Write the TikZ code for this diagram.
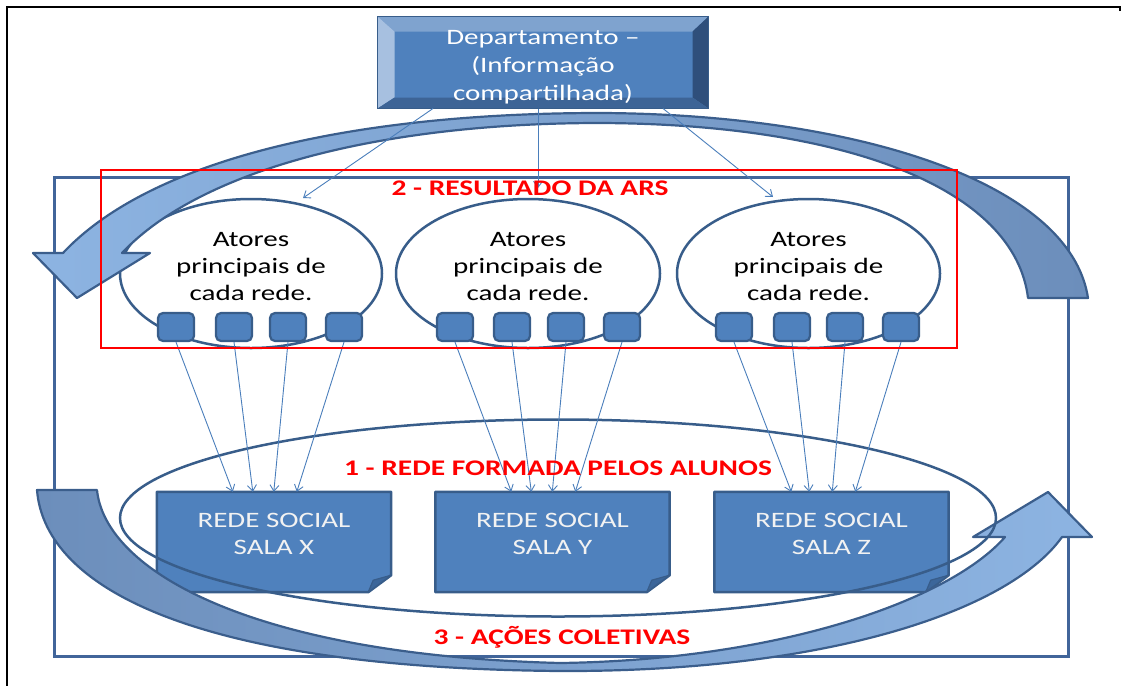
\documentclass[tikz,border=0pt]{standalone}
\usepackage{fontspec}
\setmainfont{Carlito}[FakeStretch=1.32]
\usetikzlibrary{shapes.geometric,arrows.meta,calc}
\definecolor{face}{HTML}{4F81BD}
\definecolor{bord}{HTML}{385D8A}
\definecolor{rectc}{HTML}{41659A}
\definecolor{arrlight}{HTML}{8DB4E2}
\definecolor{arrdark}{HTML}{6C8EBB}
\definecolor{arrbord}{HTML}{3B5E8C}
\definecolor{thinc}{HTML}{4A7EBB}
\definecolor{foldc}{HTML}{3C669A}
\definecolor{bvtop}{HTML}{7FA3CF}
\definecolor{bvleft}{HTML}{A7C0E0}
\definecolor{bvright}{HTML}{2F4F7B}
\definecolor{bvbot}{HTML}{3D6496}
\tikzset{
  smallsq/.style={rounded corners=5pt, fill=face, draw=bord, line width=2.2pt,
    minimum width=36pt, minimum height=28pt, inner sep=0pt},
  actor/.style={ellipse, draw=bord, line width=2.5pt, fill=white, inner sep=0pt,
    minimum height=149pt},
  redebox/.style={minimum width=234pt, minimum height=100pt, inner sep=0pt},
  thinarrow/.style={draw=thinc, line width=0.9pt, -{Straight Barb[length=6pt,width=9pt]}},
  bodytext/.style={align=center, font=\fontsize{22}{27}\selectfont, inner sep=0pt},
  redlabel/.style={text=red, font=\bfseries\fontsize{22.3}{26}\selectfont, inner sep=0pt},
}
\begin{document}
\begin{tikzpicture}[x=1pt,y=-1pt]
\useasboundingbox (0,0) rectangle (1121,686);
% frame
\draw[black, line width=1.5pt] (1120,11) -- (1120,7) -- (7,7) -- (7,686);
% outer rectangle
\node[draw=rectc, line width=3pt, minimum width=1014pt, minimum height=479pt, inner sep=0pt] (outer) at (561,416.5) {};
% actor ellipses
\node[actor, minimum width=262pt] (e1) at (251,273.5) {};
\node[actor, minimum width=264pt] (e2) at (528,273.5) {};
\node[actor, minimum width=263pt] (e3) at (808.5,273.5) {};
\node[bodytext] (t1) at (251,267) {Atores\\principais de\\cada rede.};
\node[bodytext] (t2) at (528,267) {Atores\\principais de\\cada rede.};
\node[bodytext] (t3) at (808.5,267) {Atores\\principais de\\cada rede.};
% small squares
\foreach \n/\x in {a1/176,a2/234,a3/288,a4/344,b1/455,b2/512,b3/566,b4/622,c1/734,c2/792,c3/845,c4/901}
  \node[smallsq] (\n) at (\x,327) {};
% department box
\node[fill=face, draw=bord, line width=1pt, minimum width=330pt, minimum height=91pt, inner sep=0pt] (dept) at (543,62.5) {};
\fill[bvtop] (dept.north west) -- (dept.north east) -- ($(dept.north east)+(-16,15)$) -- ($(dept.north west)+(17,15)$) -- cycle;
\fill[bvleft] (dept.north west) -- ($(dept.north west)+(17,15)$) -- ($(dept.south west)+(17,-11)$) -- (dept.south west) -- cycle;
\fill[bvright] (dept.north east) -- (dept.south east) -- ($(dept.south east)+(-16,-11)$) -- ($(dept.north east)+(-16,15)$) -- cycle;
\fill[bvbot] (dept.south west) -- (dept.south east) -- ($(dept.south east)+(-16,-11)$) -- ($(dept.south west)+(17,-11)$) -- cycle;
\draw[bord, line width=1.5pt] (dept.north west) rectangle (dept.south east);
\node[bodytext, text=white, font=\fontsize{22}{28}\selectfont] (dtext) at (543,67) {Departamento --\\(Informação\\compartilhada)};
% rede social boxes
\node[redebox] (rx) at (274,542) {};
\node[redebox] (ry) at (552.5,542) {};
\node[redebox] (rz) at (831.5,542) {};
\foreach \b in {rx,ry,rz}{
  \path[fill=face, draw=bord, line width=2.5pt, line join=round]
    (\b.north west) -- (\b.north east) -- ($(\b.south east)+(0,-17)$) -- ($(\b.south east)+(-23,0)$) -- (\b.south west) -- cycle;
  \path[fill=foldc, draw=bord, line width=1.2pt, line join=round]
    ($(\b.south east)+(-23,0)$) -- ($(\b.south east)+(-18,-12)$) -- ($(\b.south east)+(0,-17)$) -- cycle;
}
\node[bodytext, text=white!95!black] (rxt) at (274,534) {REDE SOCIAL\\SALA X};
\node[bodytext, text=white!95!black] (ryt) at (552.5,534) {REDE SOCIAL\\SALA Y};
\node[bodytext, text=white!95!black] (rzt) at (831.5,534) {REDE SOCIAL\\SALA Z};
% upper curved arrow
\path[draw=arrbord, line width=2.2pt, left color=arrlight, right color=arrdark, line join=round]
 (1088,298) .. controls (1070,180) and (850,114) .. (600,113)
 .. controls (350,113) and (150,160) .. (63,253)
 -- (33,253) -- (77,298) -- (150,253) -- (122,253)
 .. controls (200,170) and (380,123) .. (600,123)
 .. controls (850,124) and (1015,190) .. (1028,298) -- cycle;
% lower curved arrow
\path[draw=arrbord, line width=2.2pt, left color=arrdark, right color=arrlight, line join=round]
 (37,490) .. controls (45,590) and (200,668) .. (560,671)
 .. controls (830,672) and (1010,610) .. (1062,537)
 -- (1092,537) -- (1048,492) -- (973,537) -- (1005,537)
 .. controls (950,600) and (780,660) .. (560,663)
 .. controls (250,655) and (105,570) .. (97,490) -- cycle;
% big ellipse
\node[ellipse, draw=bord, line width=2.5pt, minimum width=876pt, minimum height=197pt, inner sep=0pt] (big) at (558,518) {};
% department connectors
\coordinate (p1) at (303,198);
\coordinate (p2) at (538,188);
\coordinate (p3) at (773,197);
\draw[thinarrow] ($(dept.south)+(-110,0)$) -- (p1);
\draw[thinarrow] ($(dept.south)+(-5,0)$) -- (p2);
\draw[thinarrow] ($(dept.south)+(120,0)$) -- (p3);
% square to box connectors
\foreach \s/\b/\o in {a1/rx/76,a2/rx/96,a3/rx/117,a4/rx/140,
                      b1/ry/76,b2/ry/96,b3/ry/117,b4/ry/140,
                      c1/rz/77,c2/rz/95,c3/rz/118,c4/rz/141}
  \draw[thinarrow] (\s.south) -- ($(\b.north west)+(\o,0)$);
% red box
\node[draw=red, line width=2.5pt, minimum width=856pt, minimum height=178pt, inner sep=0pt] (redbox) at (529,259) {};
% labels
\node[redlabel] (l2) at (530,188) {2 - RESULTADO DA ARS};
\node[redlabel] (l1) at (558,468) {1 - REDE FORMADA PELOS ALUNOS};
\node[redlabel] (l3) at (562,637) {3 - AÇÕES COLETIVAS};
\end{tikzpicture}
\end{document}
